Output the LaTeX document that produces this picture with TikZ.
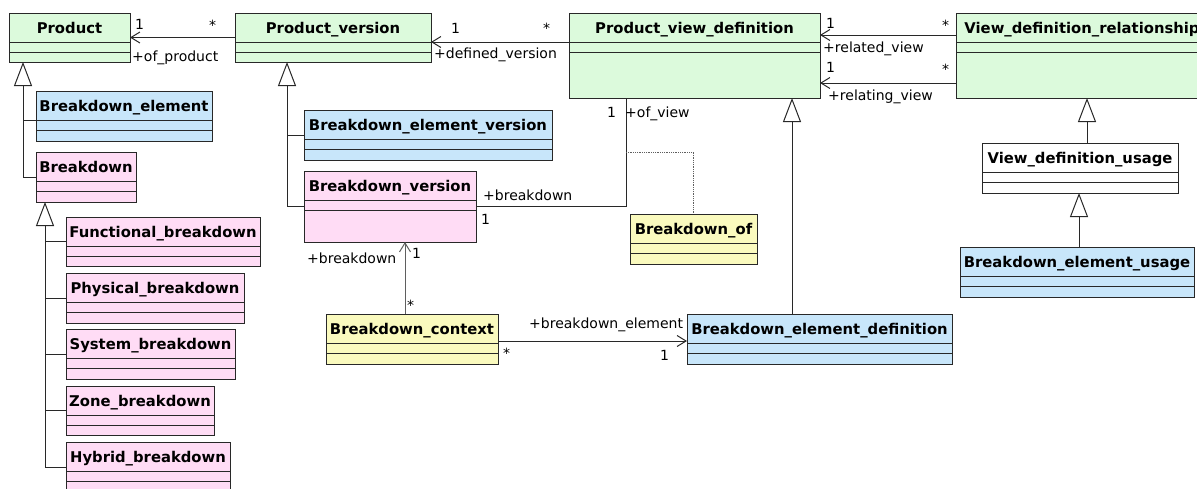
\documentclass[tikz,border=0pt]{standalone}
\usepackage{fontspec}
\setmainfont{DejaVu Sans}
\usetikzlibrary{arrows.meta,calc}
\definecolor{cgreen}{RGB}{220,250,220}
\definecolor{cblue}{RGB}{200,230,250}
\definecolor{cpink}{RGB}{255,220,245}
\definecolor{cyellow}{RGB}{250,250,190}
\definecolor{cline}{RGB}{40,40,40}
\definecolor{cgray}{RGB}{95,95,95}
\newcommand\umlcls[7]{%
  \node[cls,fill=#6,minimum width=#4pt,minimum height=#5pt] (#1) at (#2,#3) {};
  \node[ttl] (#1-t) at ($(#1.north)+(0,20)$) {#7};
  \draw[sepl] ($(#1.north west)+(0,29)$) -- ($(#1.north east)+(0,29)$);
  \draw[sepl] ($(#1.north west)+(0,39)$) -- ($(#1.north east)+(0,39)$);
}
\tikzset{
  cls/.style={draw=cline,line width=1pt,rectangle,anchor=north west,inner sep=0pt,outer sep=0pt},
  sepl/.style={draw=cline,line width=1pt},
  ttl/.style={anchor=base,inner sep=0pt,font=\fontsize{14.8}{17}\selectfont\bfseries},
  lbl/.style={anchor=base west,inner sep=0pt,font=\fontsize{14}{16}\selectfont},
  conn/.style={draw=cline,line width=1pt},
  assoc/.style={conn,-{Straight Barb[length=9pt,width=11pt,line width=1pt]}},
  gen/.style={conn,-{Triangle[open,length=24pt,width=18pt,line width=1pt]}},
}
\begin{document}
\begin{tikzpicture}[x=1pt,y=-1pt]
\useasboundingbox[fill=white] (0,0) rectangle (1197,488);
% classes
\umlcls{P}{9}{13}{121}{49}{cgreen}{Product}
\umlcls{PV}{235}{13}{196}{49}{cgreen}{Product\_version}
\umlcls{PVD}{569}{13}{251}{85}{cgreen}{Product\_view\_definition}
\umlcls{VDR}{956}{13}{252}{85}{cgreen}{View\_definition\_relationship}
\umlcls{VDU}{982}{143}{196}{50}{white}{View\_definition\_usage}
\umlcls{BEU}{960}{247}{234}{50}{cblue}{Breakdown\_element\_usage}
\umlcls{BE}{36}{91}{176}{50}{cblue}{Breakdown\_element}
\umlcls{BD}{36}{152}{100}{50}{cpink}{Breakdown}
\umlcls{FB}{66}{217}{194}{49}{cpink}{Functional\_breakdown}
\umlcls{PB}{66}{273}{178}{50}{cpink}{Physical\_breakdown}
\umlcls{SB}{66}{329}{169}{50}{cpink}{System\_breakdown}
\umlcls{ZB}{66}{386}{148}{49}{cpink}{Zone\_breakdown}
\umlcls{HB}{66}{442}{164}{50}{cpink}{Hybrid\_breakdown}
\umlcls{BEV}{304}{110}{248}{50}{cblue}{Breakdown\_element\_version}
\umlcls{BV}{304}{171}{172}{71}{cpink}{Breakdown\_version}
\umlcls{Bof}{630}{214}{127}{50}{cyellow}{Breakdown\_of}
\umlcls{BC}{326}{314}{172}{50}{cyellow}{Breakdown\_context}
\umlcls{BED}{687}{314}{265}{50}{cblue}{Breakdown\_element\_definition}
% generalization stems
\coordinate (gx1) at (23,0);
\coordinate (gx2) at (45,0);
\coordinate (gx3) at (287,0);
\draw[gen] (BD.west -| gx1) -- (P.south -| gx1);
\draw[conn] (BD.west) -- (BD.west -| gx1);
\draw[conn] ($(BE.north west)+(0,29)$) -- ($(BE.north west)+(-13,29)$);
\draw[gen] (HB.west -| gx2) -- (BD.south -| gx2);
\draw[conn] (FB.west) -- (FB.west -| gx2);
\draw[conn] (PB.west) -- (PB.west -| gx2);
\draw[conn] (SB.west) -- (SB.west -| gx2);
\draw[conn] (ZB.west) -- (ZB.west -| gx2);
\draw[conn] (HB.west) -- (HB.west -| gx2);
\draw[gen] (BV.west -| gx3) -- (PV.south -| gx3);
\draw[conn] (BEV.west) -- (BEV.west -| gx3);
\draw[conn] (BV.west) -- (BV.west -| gx3);
\draw[gen] ($(BED.north west)+(105,0)$) -- ($(PVD.south west)+(223,0)$);
\draw[gen] ($(VDU.north west)+(105,0)$) -- ($(VDR.south west)+(131,0)$);
\draw[gen] ($(BEU.north west)+(119,0)$) -- ($(VDU.south west)+(97,0)$);
% associations
\draw[assoc] (PV.west) -- (P.east);
\draw[assoc] ($(PVD.north west)+(0,29)$) -- ($(PV.north east)+(0,29)$);
\draw[assoc] ($(VDR.north west)+(0,22)$) -- ($(PVD.north east)+(0,22)$);
\draw[assoc] ($(VDR.north west)+(0,70)$) -- ($(PVD.north east)+(0,70)$);
\draw[conn] (BV.east) -| ($(PVD.south west)+(57,0)$);
\coordinate (dj) at ($(PVD.south west)+(57,54)$);
\draw[draw=cgray,line width=0.8pt,densely dotted] (dj) -| (Bof.north);
\draw[assoc,draw=cgray] ($(BC.north west)+(79,0)$) -- ($(BV.south west)+(101,0)$);
\draw[assoc] ($(BC.north east)+(0,27)$) -- ($(BED.north west)+(0,27)$);
% labels
\node[lbl] (l1) at (135,29) {1};
\node[lbl] (l2) at (209,30) {*};
\node[lbl] (l3) at (132,61) {+of\_product};
\node[lbl] (l4) at (451,33) {1};
\node[lbl] (l5) at (543,33) {*};
\node[lbl] (l6) at (434,58) {+defined\_version};
\node[lbl] (l7) at (826,28) {1};
\node[lbl] (l8) at (942,30) {*};
\node[lbl] (l9) at (823,52) {+related\_view};
\node[lbl] (l10) at (826,72) {1};
\node[lbl] (l11) at (942,74) {*};
\node[lbl] (l12) at (828,100) {+relating\_view};
\node[lbl] (l13) at (607,117) {1};
\node[lbl] (l14) at (625,117) {+of\_view};
\node[lbl] (l15) at (483,200) {+breakdown};
\node[lbl] (l16) at (481,224) {1};
\node[lbl] (l17) at (307,263) {+breakdown};
\node[lbl] (l18) at (412,258) {1};
\node[lbl] (l19) at (407,310) {*};
\node[lbl] (l20) at (529,328) {+breakdown\_element};
\node[lbl] (l21) at (503,358) {*};
\node[lbl] (l22) at (660,360) {1};
\end{tikzpicture}
\end{document}
